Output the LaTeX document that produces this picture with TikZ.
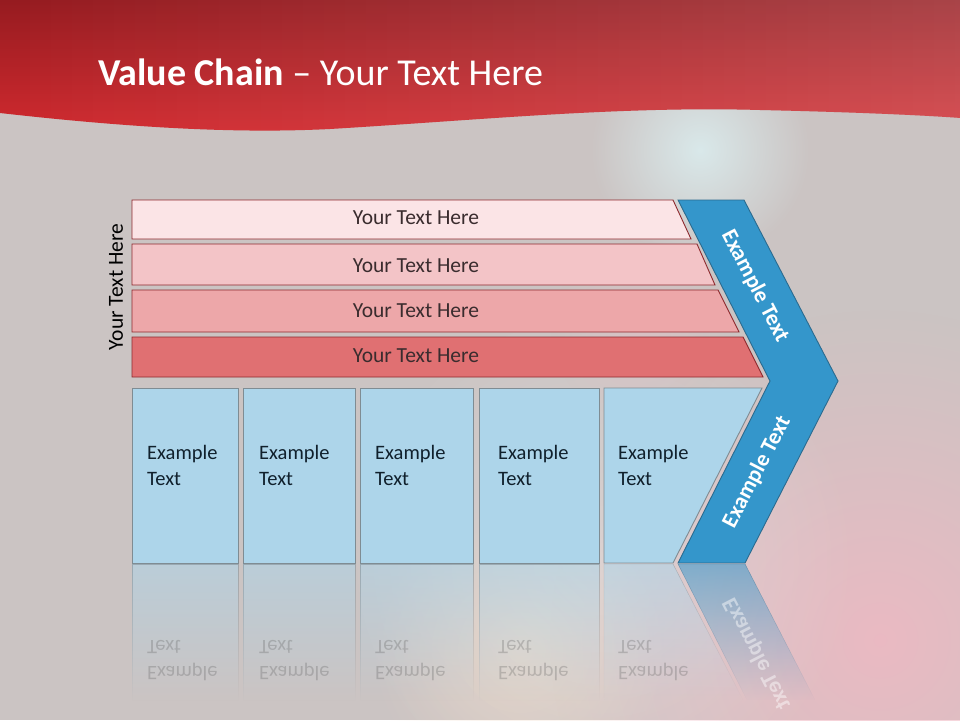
\documentclass[tikz,border=0pt]{standalone}
\usepackage{fontspec}
\setmainfont{Carlito}
\usetikzlibrary{fadings}
\definecolor{bg}{HTML}{CBC4C3}
\definecolor{hdtop}{HTML}{961B20}
\definecolor{hdbot}{HTML}{D12A2F}
\definecolor{bar1}{HTML}{FBE4E6}
\definecolor{bar2}{HTML}{F3C4C7}
\definecolor{bar3}{HTML}{EDA7A9}
\definecolor{bar4}{HTML}{E07072}
\definecolor{barline}{HTML}{8E2A2E}
\definecolor{bartxt}{HTML}{3A2C2E}
\definecolor{boxblue}{HTML}{ADD5EA}
\definecolor{boxline}{HTML}{7F8C93}
\definecolor{boxtxt}{HTML}{10202C}
\definecolor{chev}{HTML}{3496CB}
\definecolor{chevline}{HTML}{2B6B8F}
\definecolor{pinkglow}{HTML}{F0B8C2}
\definecolor{peachglow}{HTML}{F0D8C4}
\definecolor{cyanglow}{HTML}{DDF2F4}
\tikzfading[name=reflfade, top color=transparent!45, bottom color=transparent!100]
\tikzfading[name=glow, inner color=transparent!0, outer color=transparent!100]
\tikzfading[name=hfade, left color=transparent!100, right color=transparent!82]
\begin{document}
\begin{tikzpicture}[x=1pt,y=-1pt,
  barshape/.style={draw=barline, line width=0.9pt},
  bartext/.style={text=bartxt, font=\fontsize{21.5}{26}\selectfont, inner sep=0pt},
  boxshape/.style={draw=boxline, line width=0.9pt, fill=boxblue},
  boxtext/.style={text=boxtxt, font=\fontsize{20.5}{26}\selectfont, align=left, anchor=west, inner sep=0pt},
  refltext/.style={text=black!70, font=\fontsize{20.5}{26}\selectfont, align=left, anchor=west, inner sep=0pt, yscale=-1, opacity=0.25},
  reflshape/.style={fill=boxblue, draw=boxline, path fading=reflfade},
  chevtext/.style={text=white, font=\bfseries\fontsize{22.5}{26}\selectfont, inner sep=0pt}]
\useasboundingbox (0,0) rectangle (960,720);
\begin{scope}
\clip (0,0) rectangle (960,720);
\fill[bg] (0,0) rectangle (960,720);
% background swirl
\fill[pinkglow, path fading=glow, opacity=0.85] (880,640) circle (330);
\fill[peachglow, path fading=glow, opacity=0.6] (520,650) circle (150);
\fill[white, path fading=glow, opacity=0.25] (600,560) circle (260);
\fill[cyanglow, path fading=glow, opacity=0.8] (700,150) circle (110);
\fill[pinkglow, path fading=glow, opacity=0.35] (640,330) circle (90);
% header
\shade[top color=hdtop, bottom color=hdbot]
  (0,0) -- (961,0) -- (961,118)
  .. controls (920,115) and (850,112) .. (760,110)
  .. controls (620,106) and (480,120) .. (330,129)
  .. controls (250,133) and (150,130) .. (0,113) -- cycle;
\fill[white, path fading=hfade]
  (0,0) -- (961,0) -- (961,118)
  .. controls (920,115) and (850,112) .. (760,110)
  .. controls (620,106) and (480,120) .. (330,129)
  .. controls (250,133) and (150,130) .. (0,113) -- cycle;
\end{scope}
\node[anchor=base west, inner sep=0pt, text=white, font=\fontsize{38}{45}\selectfont] (title) at (98,85) {\textbf{Value Chain} – Your Text Here};
% left label
\node[rotate=90, text=black, font=\fontsize{21.5}{26}\selectfont, inner sep=0pt] (side) at (116,287) {Your Text Here};
% bars
\path[barshape, fill=bar1] (132,200) -- (673,200) -- (691,239) -- (132,239) -- cycle;
\path[barshape, fill=bar2] (132,244) -- (697,244) -- (715,285) -- (132,285) -- cycle;
\path[barshape, fill=bar3] (132,290) -- (718,290) -- (739,332) -- (132,332) -- cycle;
\path[barshape, fill=bar4] (132,337) -- (743,337) -- (763,377) -- (132,377) -- cycle;
\node[bartext] (t1) at (416,218) {Your Text Here};
\node[bartext] (t2) at (416,266) {Your Text Here};
\node[bartext] (t3) at (416,311) {Your Text Here};
\node[bartext] (t4) at (416,356) {Your Text Here};
% chevron
\path[fill=chev, draw=chevline, line width=0.9pt] (678,200) -- (744,200) -- (838,381) -- (745,563) -- (678,563) -- (770,381) -- cycle;
\node[chevtext, rotate=-62.6] (c1) at (755,286) {Example Text};
\node[chevtext, rotate=62.6] (c2) at (757,472) {Example Text};
% boxes
\path[boxshape] (132,388) rectangle (238,563);
\path[boxshape] (243,388) rectangle (355,563);
\path[boxshape] (360,388) rectangle (473,563);
\path[boxshape] (479,388) rectangle (599,563);
\path[boxshape] (604,388) -- (762,388) -- (673,563) -- (604,563) -- cycle;
\node[boxtext] (e1) at (147,465) {Example\\Text};
\node[boxtext] (e2) at (259,465) {Example\\Text};
\node[boxtext] (e3) at (375,465) {Example\\Text};
\node[boxtext] (e4) at (498,465) {Example\\Text};
\node[boxtext] (e5) at (618,465) {Example\\Text};
% reflection
\path[reflshape] (132,564) rectangle (238,700);
\path[reflshape] (243,564) rectangle (355,700);
\path[reflshape] (360,564) rectangle (473,700);
\path[reflshape] (479,564) rectangle (599,700);
\path[reflshape] (604,564) -- (673,564) -- (743,700) -- (604,700) -- cycle;
\path[fill=chev, draw=chevline, path fading=reflfade] (678,564) -- (745,564) -- (815,700) -- (747,700) -- cycle;
\node[refltext] (r1) at (147,661) {Example\\Text};
\node[refltext] (r2) at (259,661) {Example\\Text};
\node[refltext] (r3) at (375,661) {Example\\Text};
\node[refltext] (r4) at (498,661) {Example\\Text};
\node[refltext] (r5) at (618,661) {Example\\Text};
\node[chevtext, rotate=-62.6, yscale=-1, opacity=0.45] (rc) at (757,654) {Example Text};
\end{tikzpicture}
\end{document}
